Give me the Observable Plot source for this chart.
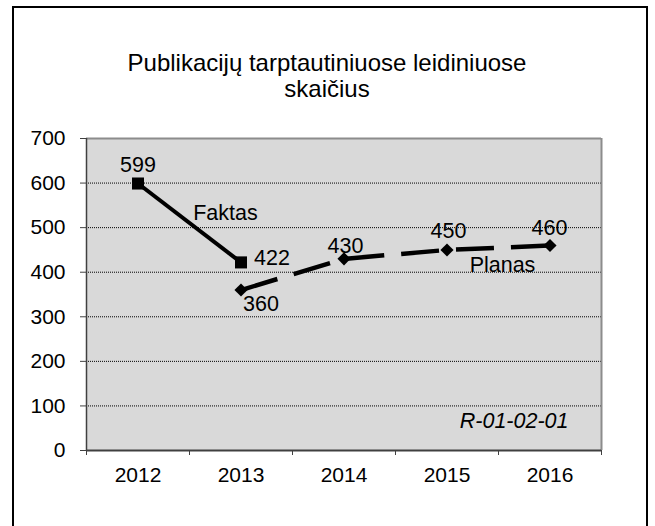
<!DOCTYPE html>
<html><head><meta charset="utf-8">
<script src="https://cdn.jsdelivr.net/npm/d3@7"></script>
<script src="https://cdn.jsdelivr.net/npm/@observablehq/plot@0.6"></script>
<style>
body{margin:0;background:#fff;}
#wrap{position:relative;width:655px;height:526px;overflow:hidden;font-family:"Liberation Sans",Arial,sans-serif;background:#fff;}
#frame{position:absolute;left:12px;top:6px;width:636px;height:560px;border:2px solid #000;box-sizing:border-box;}
#title{position:absolute;left:9px;width:636px;top:50px;text-align:center;font-size:24px;line-height:26px;color:#000;}
#chart{position:absolute;left:0;top:0;}
</style></head><body>
<div id="wrap"><div id="frame"></div><div id="title">Publikacijų tarptautiniuose leidiniuose<br>skaičius</div><div id="chart"></div></div>
<script>
const years = [2012, 2013, 2014, 2015, 2016];
const faktasYears = [2012, 2013];
const faktasValues = [599, 422];
const planasYears = [2013, 2014, 2015, 2016];
const planasValues = [360, 430, 450, 460];
const yTicks = [0, 100, 200, 300, 400, 500, 600, 700];
const gridTicks = [100, 200, 300, 400, 500, 600];
const seriesNames = ["Faktas", "Planas"];
const chartCode = "R-01-02-01";

const faktas = faktasYears.map((x, i) => ({x, y: faktasValues[i]}));
const planas = planasYears.map((x, i) => ({x, y: planasValues[i]}));
const boundaries = [...years.map(y => y - 0.5), years[years.length - 1] + 0.5];
const xMin = boundaries[0], xMax = boundaries[boundaries.length - 1];

const faktasMid = {x: d3.mean(faktas, d => d.x), y: d3.mean(faktas, d => d.y), name: seriesNames[0]};
const lastTwo = planas.slice(-2);
const planasMid = {x: d3.mean(lastTwo, d => d.x), y: d3.mean(lastTwo, d => d.y), name: seriesNames[1]};

const diamond = {draw(ctx, size) { const r = Math.sqrt(size) * 0.62625; ctx.moveTo(0, -r); ctx.lineTo(r, 0); ctx.lineTo(0, r); ctx.lineTo(-r, 0); ctx.closePath(); }};

const font = '"Liberation Sans", Arial, sans-serif';
const FS = 21.5;
const lab = (data, i, dx, dy) => Plot.text(data, {filter: (d, j) => j === i, x: "x", y: "y", text: d => String(d.y), dx, dy, fontSize: FS, fill: "#000"});

const chart = Plot.plot({
  width: 655, height: 526,
  marginLeft: 86, marginRight: 54, marginTop: 138, marginBottom: 76,
  style: {fontFamily: font, fontSize: "21px", background: "transparent", color: "#000", overflow: "visible"},
  x: {domain: [xMin, xMax], label: null},
  y: {domain: [0, 700], label: null},
  marks: [
    Plot.frame({fill: "#d9d9d9", stroke: null}),
    Plot.ruleY(gridTicks, {stroke: "#000", strokeWidth: 1, strokeDasharray: "1,1"}),
    Plot.ruleY([yTicks[yTicks.length - 1]], {stroke: "#8c8c8c", strokeWidth: 2}),
    Plot.ruleX([xMax], {stroke: "#8c8c8c", strokeWidth: 2}),
    Plot.axisY({ticks: yTicks, tickSize: 6, tickPadding: 15, tickFormat: d => String(d), fontSize: 21, stroke: "#404040", label: null}),
    Plot.axisX({ticks: boundaries, tickSize: 5, tickFormat: () => "", stroke: "#404040", label: null}),
    Plot.axisX({ticks: years, tickSize: 0, tickPadding: 17, tickFormat: d => String(d), fontSize: 21, label: null}),
    Plot.ruleX([xMin], {stroke: "#404040", strokeWidth: 1.5}),
    Plot.ruleY([0], {stroke: "#404040", strokeWidth: 2}),
    Plot.line(faktas, {x: "x", y: "y", stroke: "#000", strokeWidth: 4, strokeLinecap: "butt", strokeLinejoin: "miter"}),
    Plot.line(planas, {x: "x", y: "y", stroke: "#000", strokeWidth: 4.5, strokeDasharray: "38,17", strokeLinecap: "butt", strokeLinejoin: "miter"}),
    Plot.dot(faktas, {x: "x", y: "y", symbol: "square", r: 6.8, fill: "#000", stroke: null}),
    Plot.dot(planas, {x: "x", y: "y", symbol: diamond, r: 5.9, fill: "#000", stroke: null}),
    lab(faktas, 0, 0, -18),
    lab(faktas, 1, 31, -4),
    lab(planas, 0, 20, 14),
    lab(planas, 1, 1.5, -13),
    lab(planas, 2, 1.5, -19),
    lab(planas, 3, -0.5, -17.5),
    Plot.text([faktasMid], {x: "x", y: "y", text: "name", dx: 36, dy: -10, fontSize: FS, fill: "#000"}),
    Plot.text([planasMid], {x: "x", y: "y", text: "name", dx: 4, dy: 17, fontSize: FS, fill: "#000"}),
    Plot.text([chartCode], {frameAnchor: "bottom-right", text: d => d, dx: -33, dy: -29, textAnchor: "end", lineAnchor: "middle", fontStyle: "italic", fontSize: FS, fill: "#000"})
  ]
});
document.getElementById("chart").appendChild(chart);
</script>
</body></html>
